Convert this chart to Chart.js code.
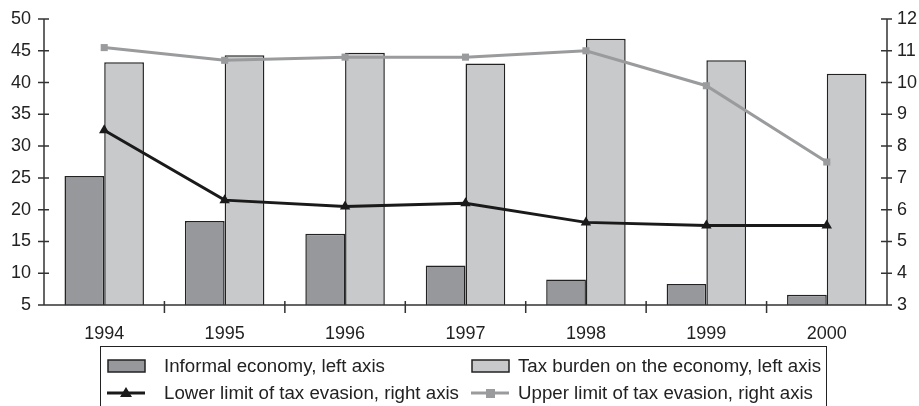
<!DOCTYPE html>
<html>
<head>
<meta charset="utf-8">
<script src="https://cdn.jsdelivr.net/npm/chart.js@4/dist/chart.umd.min.js"></script>
<style>
    body { margin: 0; background: #fff; font-family: "Liberation Sans", Arial, sans-serif; }
    #wrap { position: relative; width: 919px; height: 406px; overflow: hidden; }
    #grafico { position: absolute; left: 0; top: 0; }
    #leyenda {
        position: absolute; left: 100px; top: 346px; width: 727px; height: 80px;
        border: 1.5px solid #222; box-sizing: border-box; color: #222; font-size: 18.7px;
    }
    .item { position: absolute; white-space: nowrap; line-height: 20px; }
    .item canvas { position: absolute; left: 0; top: 0; }
    .item span { position: absolute; top: 0; }
</style>
</head>
<body>
<div id="wrap">
    <canvas id="grafico" width="919" height="350"></canvas>
    <div id="leyenda"></div>
</div>
<script>
// Datos
const anios = ['1994', '1995', '1996', '1997', '1998', '1999', '2000'];
const economiaInformal = [25.3, 18.2, 16.2, 11.2, 9.0, 8.3, 6.6];
const cargaTributaria = [43.2, 44.3, 44.7, 43.0, 46.9, 43.5, 41.4];
const evasionInferior = [8.5, 6.3, 6.1, 6.2, 5.6, 5.5, 5.5];
const evasionSuperior = [11.1, 10.7, 10.8, 10.8, 11.0, 9.9, 7.5];
const ticksIzq = [5, 10, 15, 20, 25, 30, 35, 40, 45, 50];
const ticksDer = [3, 4, 5, 6, 7, 8, 9, 10, 11, 12];

const fuente = { family: '"Liberation Sans", Arial, sans-serif', size: 18 };

// marcas de eje que cruzan la línea, como en el original
const marcasCruzadas = {
    id: 'marcasCruzadas',
    afterDraw(chart) {
        const ctx = chart.ctx;
        const area = chart.chartArea;
        ctx.save();
        ctx.strokeStyle = '#333';
        ctx.lineWidth = 1.5;
        const y = chart.scales.y, y2 = chart.scales.y2, x = chart.scales.x;
        ctx.beginPath();
        y.ticks.forEach((t, i) => {
            const py = y.getPixelForTick(i);
            ctx.moveTo(area.left - 6, py); ctx.lineTo(area.left + 5, py);
        });
        y2.ticks.forEach((t, i) => {
            const py = y2.getPixelForTick(i);
            ctx.moveTo(area.right - 6, py); ctx.lineTo(area.right + 5, py);
        });
        for (let i = 1; i < anios.length; i++) {
            const px = (x.getPixelForValue(i - 1) + x.getPixelForValue(i)) / 2;
            ctx.moveTo(px, area.bottom - 4); ctx.lineTo(px, area.bottom + 8);
        }
        ctx.moveTo(area.left, area.top); ctx.lineTo(area.left, area.bottom);
        ctx.moveTo(area.right, area.top); ctx.lineTo(area.right, area.bottom);
        ctx.moveTo(area.left, area.bottom); ctx.lineTo(area.right, area.bottom);
        ctx.stroke();
        ctx.restore();
    }
};

const ctx = document.getElementById('grafico').getContext('2d');
const grafico = new Chart(ctx, {
    type: 'bar',
    data: {
        labels: anios,
        datasets: [
            {
                type: 'line',
                label: 'Lower limit of tax evasion, right axis',
                data: evasionInferior,
                yAxisID: 'y2',
                borderColor: '#1a1a1a',
                backgroundColor: '#1a1a1a',
                borderWidth: 3,
                pointStyle: 'triangle',
                pointRadius: 6,
                pointBorderWidth: 0,
                tension: 0,
                order: 1
            },
            {
                type: 'line',
                label: 'Upper limit of tax evasion, right axis',
                data: evasionSuperior,
                yAxisID: 'y2',
                borderColor: '#9a9b9d',
                backgroundColor: '#9a9b9d',
                borderWidth: 3,
                pointStyle: 'rect',
                pointRadius: 5,
                pointBorderWidth: 0,
                tension: 0,
                order: 0
            },
            {
                label: 'Informal economy, left axis',
                data: economiaInformal,
                yAxisID: 'y',
                backgroundColor: '#97989c',
                borderColor: '#222',
                borderWidth: 1.5,
                categoryPercentage: 0.66,
                barPercentage: 1,
                order: 2
            },
            {
                label: 'Tax burden on the economy, left axis',
                data: cargaTributaria,
                yAxisID: 'y',
                backgroundColor: '#c8c9cb',
                borderColor: '#222',
                borderWidth: 1.5,
                categoryPercentage: 0.66,
                barPercentage: 1,
                order: 2
            }
        ]
    },
    options: {
        responsive: false,
        animation: false,
        layout: { padding: { top: 19 } },
        plugins: {
            legend: { display: false },
            tooltip: { enabled: false }
        },
        scales: {
            x: {
                offset: true,
                grid: { display: false },
                border: { display: false },
                ticks: { color: '#222', font: fuente, padding: 10, maxRotation: 0 },
                afterFit(scale) { scale.height = 45; }
            },
            y: {
                position: 'left',
                min: 5, max: 50,
                afterBuildTicks(scale) { scale.ticks = ticksIzq.map(v => ({ value: v })); },
                grid: { display: false },
                border: { display: false },
                ticks: { color: '#222', font: fuente, padding: 5 },
                afterFit(scale) { scale.width = 44; }
            },
            y2: {
                position: 'right',
                min: 3, max: 12,
                afterBuildTicks(scale) { scale.ticks = ticksDer.map(v => ({ value: v })); },
                grid: { display: false },
                border: { display: false },
                ticks: { color: '#222', font: fuente, padding: 2 },
                afterFit(scale) { scale.width = 32; }
            }
        }
    },
    plugins: [marcasCruzadas]
});

// Leyenda en HTML con recuadro, dos columnas
function crearLeyenda() {
    const leyenda = document.getElementById('leyenda');
    const items = [
        { ds: 2, x: 6, y: 9, tipo: 'barra', texto: 158 - 101 },
        { ds: 3, x: 370, y: 9, tipo: 'barra', texto: 518 - 471 },
        { ds: 0, x: 6, y: 36, tipo: 'linea', texto: 158 - 101 },
        { ds: 1, x: 370, y: 36, tipo: 'linea', texto: 518 - 471 }
    ];
    items.forEach(it => {
        const ds = grafico.data.datasets[it.ds];
        const div = document.createElement('div');
        div.className = 'item';
        div.style.left = it.x + 'px';
        div.style.top = it.y + 'px';
        const c = document.createElement('canvas');
        c.width = 40; c.height = 20;
        const g = c.getContext('2d');
        if (it.tipo === 'barra') {
            g.fillStyle = ds.backgroundColor;
            g.fillRect(1, 4, 37, 12);
            g.strokeStyle = '#222';
            g.lineWidth = 1.5;
            g.strokeRect(1, 4, 37, 12);
        } else {
            g.strokeStyle = ds.borderColor;
            g.lineWidth = 3;
            g.beginPath(); g.moveTo(0, 10); g.lineTo(38, 10); g.stroke();
            g.fillStyle = ds.backgroundColor;
            g.beginPath();
            if (ds.pointStyle === 'triangle') {
                g.moveTo(19, 4); g.lineTo(25, 14); g.lineTo(13, 14);
            } else {
                g.rect(15, 6, 9, 9);
            }
            g.fill();
        }
        div.appendChild(c);
        const s = document.createElement('span');
        s.style.left = it.texto + 'px';
        s.textContent = ds.label;
        div.appendChild(s);
        leyenda.appendChild(div);
    });
}

crearLeyenda();
</script>
</body>
</html>
